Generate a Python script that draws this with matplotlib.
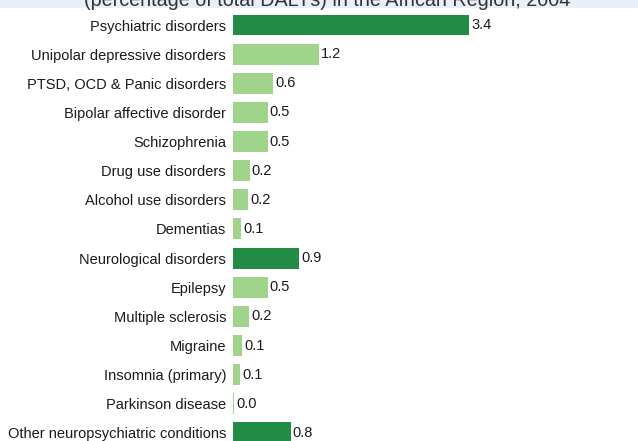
import numpy as np
import matplotlib.pyplot as plt
from matplotlib.patches import Rectangle

plt.rcParams['font.family'] = ['Liberation Sans', 'DejaVu Sans']

categories = ["Psychiatric disorders", "Unipolar depressive disorders",
              "PTSD, OCD & Panic disorders", "Bipolar affective disorder",
              "Schizophrenia", "Drug use disorders", "Alcohol use disorders",
              "Dementias", "Neurological disorders", "Epilepsy",
              "Multiple sclerosis", "Migraine", "Insomnia (primary)",
              "Parkinson disease", "Other neuropsychiatric conditions"]
values = [3.40, 1.24, 0.58, 0.50, 0.50, 0.24, 0.22, 0.12,
          0.95, 0.50, 0.23, 0.13, 0.10, 0.02, 0.83]
labels = ["3.4", "1.2", "0.6", "0.5", "0.5", "0.2", "0.2", "0.1",
          "0.9", "0.5", "0.2", "0.1", "0.1", "0.0", "0.8"]
is_group = [True, False, False, False, False, False, False, False,
            True, False, False, False, False, False, True]

dark = "#228b45"
light = "#a0d48a"

W, H = 638, 441
fig = plt.figure(figsize=(W / 100, H / 100), dpi=100)

# title band (cut off at the top, as in the source)
fig.patches.append(Rectangle((0, 1 - 8 / H), 1, 8 / H, transform=fig.transFigure,
                             facecolor="#e8eff8", edgecolor="none", zorder=0))
fig.text(327 / W, 1 - 6 / H, "(percentage of total DALYs) in the African Region, 2004",
         ha="center", va="baseline", fontsize=14.2, color="#333333")

ax = fig.add_axes([233 / W, 0, 1 - 233 / W, 1 - 10 / H])
ax.set_facecolor("none")

y = np.arange(len(categories))
colors = [dark if g else light for g in is_group]
ax.barh(y, values, height=0.72, color=colors, zorder=2)
for yi, v, lab in zip(y, values, labels):
    ax.text(v + 0.03, yi, lab, va="center", ha="left", fontsize=10.5, color="#1a1a1a")

ax.set_xlim(0, (W - 233) / 69.5)
ax.set_ylim(14.276, -0.515)
ax.set_yticks(y)
ax.set_yticklabels(categories, fontsize=10.5, color="#1a1a1a")
ax.tick_params(axis="y", length=0, pad=5)
ax.set_xticks([])
for s in ax.spines.values():
    s.set_visible(False)

fig.savefig("out.png", dpi=100)
